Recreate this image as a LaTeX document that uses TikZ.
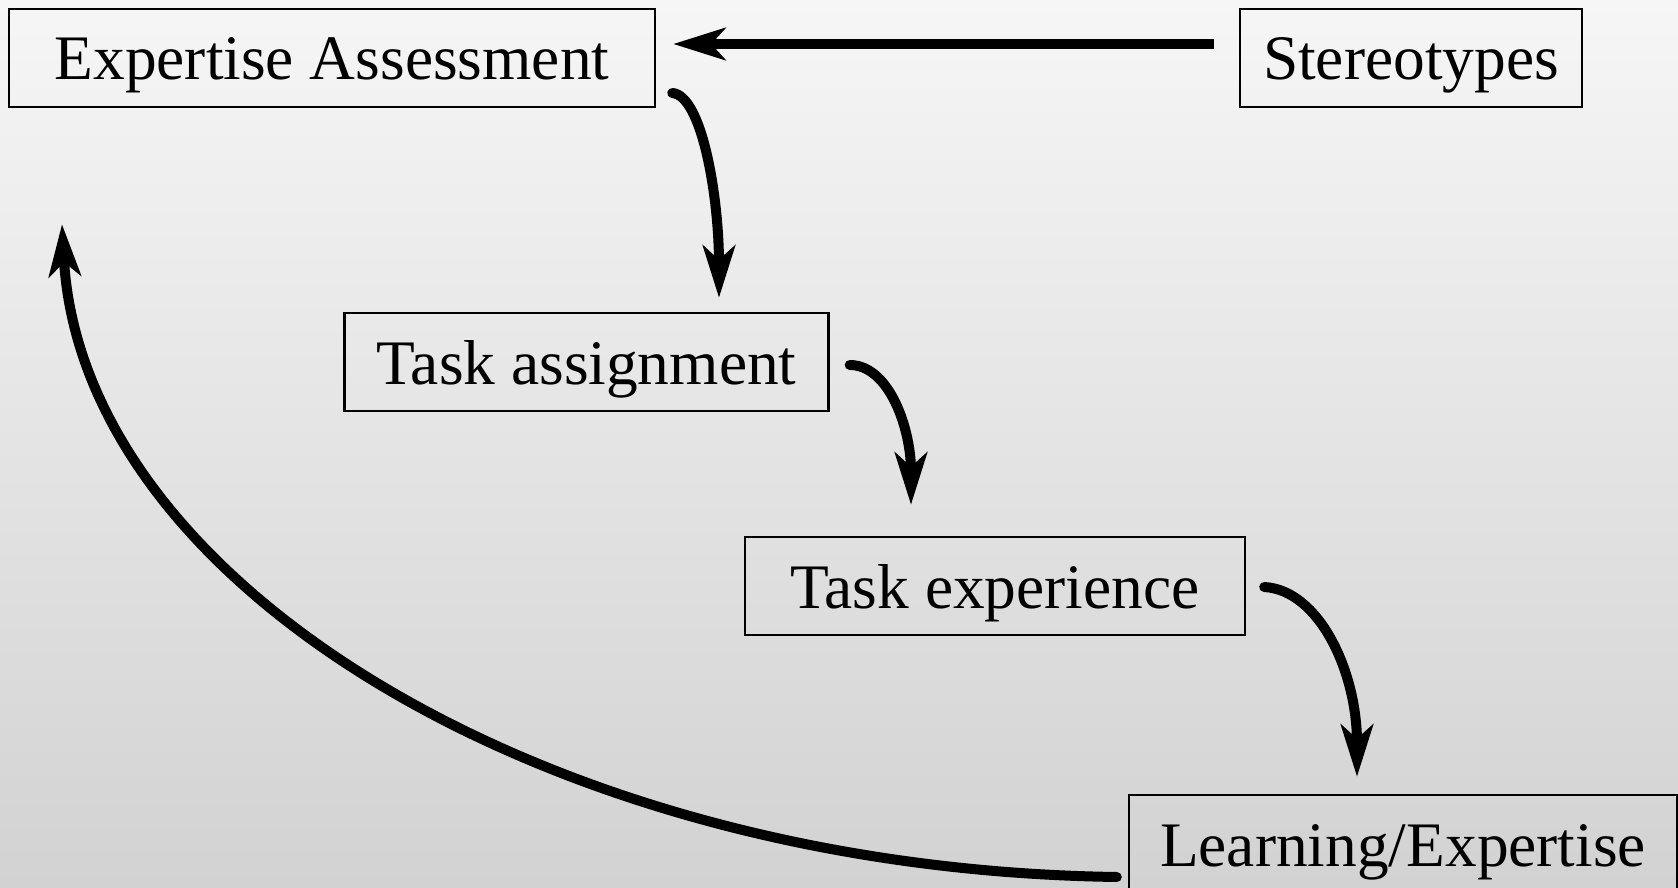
\documentclass[tikz,border=0pt]{standalone}
\usepackage{fontspec}
\setmainfont{Liberation Serif}
\usetikzlibrary{arrows.meta,calc}
\definecolor{bgtop}{RGB}{246,246,246}
\definecolor{bgbot}{RGB}{210,210,210}
\begin{document}
\begin{tikzpicture}[x=0.5pt,y=-0.5pt,
  box/.style={draw=black,line width=1.2pt,inner sep=0pt,text height=22pt,text depth=0pt,
    minimum height=49pt,font=\fontsize{31.7pt}{38pt}\selectfont},
  conn/.style={line width=5pt,-{Stealth[length=26pt,width=16pt,inset=7pt]}},
  rconn/.style={conn,line cap=round}]
\shade[top color=bgtop,bottom color=bgbot] (0,0) rectangle (1678,888);
\useasboundingbox (0,0) rectangle (1678,888);
\node[box,minimum width=323pt] (ea) at (332,58) {Expertise Assessment};
\node[box,minimum width=171pt] (st) at (1411,58) {Stereotypes};
\node[box,minimum width=242pt] (ta) at (586.5,362) {Task assignment};
\node[box,minimum width=250pt] (te) at (995,586) {Task experience};
\node[box,minimum width=274pt] (le) at (1403,844) {Learning/Expertise};
\draw[conn] ($(st.west)+(-25,-14)$) -- ($(ea.east)+(17,-14)$);
\draw[rconn] ($(ea.east)+(16,35)$) .. controls +(30,2) and +(0,-100) .. ($(ta.north)+(132.5,-14)$);
\draw[rconn] ($(ta.east)+(20,3)$) .. controls +(40,0) and +(0,-75) .. ($(te.north)+(-84,-31)$);
\draw[rconn] ($(te.east)+(18,1)$) .. controls +(55,3) and +(0,-105) .. ($(le.north)+(-46,-17)$);
\draw[rconn] ($(le.west)+(-11,33)$) .. controls +(-570,-8) and +(20,360) .. ($(ea.south)+(-270,116)$);
\end{tikzpicture}
\end{document}
